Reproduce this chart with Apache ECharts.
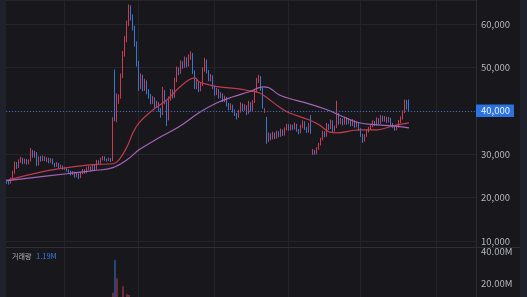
<!DOCTYPE html>
<html><head><meta charset="utf-8">
<script src="https://cdn.jsdelivr.net/npm/echarts@6/dist/echarts.min.js"></script>
<style>html,body{margin:0;padding:0;background:#18181c;}#c{width:527px;height:297px;}</style>
</head><body><div id="c"></div>
<script>
// ---- data (KRW) ----
const opens = [
23900,23600,23400,24300,25800,27800,27000,28400,28900,28000,
28700,27900,28500,30600,29500,30300,27600,29200,28600,29300,
28700,29000,28200,28800,27800,27300,27900,27000,27300,26600,
26900,26200,26000,25400,25900,24900,25500,24700,25600,26300,
25800,26700,27000,26400,27300,26500,28400,28000,28900,29300,
28800,28600,28900,28500,46000,38200,42000,43200,48000,53000,
56500,60000,63600,61500,59000,55500,51000,45500,48000,45000,
46800,44200,43500,42000,42900,41000,41800,40200,39300,44500,
42000,38000,42800,44500,43300,47000,49600,48800,51000,50200,
52000,50500,52500,53000,49000,45500,46500,44800,46000,49500,
51500,49000,47200,48000,45500,44000,44800,43200,43800,42400,
43000,41500,40500,41200,40000,39200,38600,39800,41500,40300,
41000,39500,41800,40200,42000,44500,47000,47800,45000,39800,
38500,33000,34500,33600,34800,33800,35000,34200,35500,34500,
35800,36600,35700,36500,35900,36800,35600,35000,36400,37400,
36000,35200,37000,30000,30800,30200,31300,32200,33400,35000,
34200,36800,36000,37600,35500,36200,38800,37200,38000,37000,
38200,37200,37800,36800,37600,36500,37200,35800,34500,33100,
34200,35300,35900,36500,37400,36800,38000,37200,38600,37800,
38400,37600,38200,37000,36400,35800,36300,37500,38300,39700,
42200,41800];
const closes = [
23600,23400,24300,25800,27800,27000,28400,28900,28000,28700,
27900,28500,30600,29500,30300,27600,29200,28600,29300,28700,
29000,28200,28800,27800,27300,27900,27000,27300,26600,26900,
26200,26000,25400,25900,24900,25500,24700,25600,26300,25800,
26700,27000,26400,27300,26500,28400,28000,28900,29300,28800,
28600,28900,28500,38000,39000,43500,43200,48000,53000,56500,
60000,63600,61500,59000,55500,51000,45500,48000,45000,46800,
44200,43500,42000,42900,41000,41800,40200,39300,44500,42000,
38000,42800,44500,43300,47000,49600,48800,51000,50200,52000,
50500,52500,53000,49000,45500,46500,44800,46000,49500,51500,
49000,47200,48000,45500,44000,44800,43200,43800,42400,43000,
41500,40500,41200,40000,39200,38600,39800,41500,40300,41000,
39500,41800,40200,42000,44500,47000,47800,45000,41000,40100,
33000,34500,33600,34800,33800,35000,34200,35500,34500,35800,
36600,35700,36500,35900,36800,35600,35000,36400,37400,36000,
35200,36800,35000,30800,30200,31300,32200,33400,35000,34200,
36800,36000,37600,35500,36200,38800,37200,38000,37000,38200,
37200,37800,36800,37600,36500,37200,35800,34500,33100,34200,
35300,35900,36500,37400,36800,38000,37200,38600,37800,38400,
37600,38200,37000,36400,35800,36300,37500,38300,39700,42200,
40600,40000];
const lows = [
23200,23000,23200,24000,25500,26600,26800,28000,27700,27800,
27600,27700,28300,29200,29200,27300,27400,28300,28400,28400,
28200,27900,28000,27600,27000,27100,26800,26800,26400,26400,
26000,25700,25100,25200,24600,24700,24300,24500,25400,25500,
25600,26400,26100,26200,26300,26400,27700,27800,28600,28500,
28300,28400,28200,28400,37600,37400,41600,42800,47500,52500,
55800,59500,60800,58500,54800,50200,44600,45000,44500,44600,
43800,42800,41500,41600,40600,40700,39800,38400,39000,41500,
36500,37800,42300,42800,43000,46600,48200,48500,49700,49900,
50000,50200,51800,48500,45000,45000,44300,44500,45700,49000,
48600,46800,46800,45000,43500,43600,42800,42900,42000,42000,
41000,40100,40200,39600,38800,38000,38400,39600,39900,40000,
39000,39300,39800,40000,41800,44200,46400,44600,40500,39500,
32400,32800,33200,33400,33500,33600,33900,34000,34200,34300,
35500,35400,35500,35600,35700,35200,34600,34800,36000,35600,
34900,35000,34700,29800,29900,30000,31000,32000,33200,33900,
34000,35600,35800,35100,35200,36000,36800,36900,36600,36800,
36800,36900,36400,36500,36100,36200,35400,34000,32600,32900,
34000,35000,35600,36200,36500,36600,36900,37000,37500,37500,
37200,37300,36700,36000,35400,35500,36100,37200,38000,39500,
40300,39700];
const highs = [
24200,24000,24600,26200,28300,28200,28800,29400,29200,29000,
28900,28800,31400,31000,30800,30500,29500,29600,29700,29500,
29300,29200,29100,29000,28000,28200,28000,27600,27400,27100,
27000,26500,26200,26100,26000,25800,25600,25900,26600,26500,
27000,27300,27200,27600,27500,28700,28600,29200,29600,29500,
29000,29200,29100,38500,49500,44000,43800,48600,53800,57200,
60800,64500,64300,62200,59600,56000,51500,48600,48300,47400,
47000,45000,43900,43400,43100,42300,42000,40600,45500,44800,
42300,43300,45000,44900,47600,50200,50000,51600,51400,52500,
52300,53000,53700,53300,49300,47200,46800,46500,50000,52200,
51800,49400,48500,48200,45800,45300,45000,44300,44000,43500,
43200,41800,41700,41400,40300,39500,40200,42000,41700,41500,
41300,42300,42000,42500,45000,47600,48300,48000,45300,40600,
38600,35000,34800,35200,35000,35400,35300,35900,35700,36200,
37000,36900,36900,36800,37300,37000,35800,36800,37800,37600,
36300,37200,39000,31200,31000,31600,32600,33800,35400,35300,
37200,37000,38000,37800,36600,42300,39500,38400,38200,38600,
38500,38300,38000,38100,37800,37600,37400,36000,34700,34600,
35700,36300,36900,37800,37700,38500,38300,39000,38900,38800,
38600,38600,38400,37200,36600,36700,37900,38700,40100,42600,
42500,42600];
// volume in millions of shares
const volumesM = [
1.8,1.5,2.0,2.6,3.2,2.4,2.2,1.9,1.7,1.6,
1.5,1.4,2.8,2.1,1.7,2.3,1.9,1.5,1.4,1.3,
1.2,1.3,1.1,1.4,1.2,1.0,1.1,0.9,1.0,0.9,
1.0,0.9,1.1,0.8,1.2,0.9,1.0,1.1,1.2,0.9,
1.1,1.0,0.9,1.2,1.0,1.9,1.3,1.5,1.6,1.1,
0.9,1.0,0.9,14.0,34.4,23.0,8.5,9.6,18.0,10.5,
13.0,12.5,9.8,7.5,8.2,9.0,10.2,6.4,5.8,5.1,
5.4,4.6,4.2,3.9,4.4,3.6,3.8,4.5,7.2,5.0,
6.1,5.5,4.8,3.9,5.9,6.6,4.7,5.2,4.1,4.8,
4.0,4.5,5.3,5.6,4.9,3.6,3.2,3.0,4.6,5.1,
4.0,3.4,2.9,3.1,2.8,2.4,2.6,2.2,2.5,2.1,
2.4,2.6,2.0,2.2,2.5,2.7,2.1,2.4,2.0,1.9,
2.0,2.2,1.8,2.4,3.5,4.8,4.2,3.9,4.4,2.6,
6.8,3.2,2.4,2.0,1.9,2.1,1.7,1.8,1.6,1.9,
2.0,1.6,1.5,1.4,1.7,1.5,1.6,1.8,2.1,1.7,
1.4,1.8,3.9,4.2,2.6,2.3,2.5,2.8,3.4,2.2,
2.6,2.0,2.3,1.9,1.7,5.6,3.1,2.0,1.7,1.6,
1.5,1.4,1.3,1.4,1.2,1.3,1.6,1.9,2.4,1.7,
1.6,1.5,1.4,1.6,1.3,1.7,1.4,1.6,1.3,1.2,
1.3,1.2,1.4,1.5,1.6,1.3,1.5,1.6,1.9,2.8,
1.9,1.19];
// moving averages read at sample candles (index -> value)
const maShortIdx = [0,18,30,43,53,56,60,63,66,73,80,86,91,94,96,101,106,116,121,126,130,136,141,151,156,161,165,176,185,193,201];
const maShortVal = [24000,26000,26900,27600,27800,28700,31700,34930,37230,40230,42530,45300,47140,47600,46680,45990,45530,45070,44610,44150,43000,40920,39540,37930,36770,35160,34930,35620,35620,36540,37240];
const maLongIdx = [0,13,30,43,53,60,66,76,86,96,105,113,121,128,131,136,140,151,160,168,176,185,193,201];
const maLongVal = [23900,24600,25500,26200,26900,28700,31000,33780,36310,39540,41840,43230,44380,45530,45300,43690,43000,41600,40230,38620,37240,36770,36540,36080];
const volumeTitle = '거래량';
const totalSlots = 235;          // candles + empty right margin
const gridLineIdx = [29, 66, 104, 141, 177, 215];

// categories: trading days
const categories = [];
{ const d = new Date(Date.UTC(2023, 0, 2));
  while (categories.length < totalSlots) {
    const wd = d.getUTCDay();
    if (wd !== 0 && wd !== 6) categories.push(d.toISOString().slice(0, 10));
    d.setUTCDate(d.getUTCDate() + 1);
  } }

const UP = '#c83d52', DOWN = '#3877d0';
const UPV = 'rgba(200,61,82,0.85)', DOWNV = 'rgba(56,119,208,0.85)';
const FONT = "'Noto Sans CJK KR','Noto Sans',sans-serif";
const LABEL = '#b4b7bf';
const GRIDC = '#24242a';

const ohlc = opens.map((o, i) => [o, closes[i], lows[i], highs[i]]);
const vol = volumesM.map((v, i) => ({ value: v, itemStyle: { color: closes[i] >= opens[i] ? UPV : DOWNV } }));
const lastClose = closes[closes.length - 1];
const lastVol = volumesM[volumesM.length - 1];

const xBase = (gi) => ({
  type: 'category', gridIndex: gi, data: categories, boundaryGap: true,
  axisLine: { show: false }, axisTick: { show: false }, axisLabel: { show: false },
  splitLine: { show: true, interval: (idx) => gridLineIdx.includes(idx), lineStyle: { color: GRIDC, width: 1 } }
});

const chart = echarts.init(document.getElementById('c'), null, { renderer: 'canvas' });
chart.setOption({
  backgroundColor: '#18181c',
  animation: false,
  grid: [
    { left: 6, right: 51, top: 0, height: 247, outerBoundsMode: 'none' },
    { left: 6, right: 51, top: 248, height: 67, outerBoundsMode: 'none' }
  ],
  xAxis: [xBase(0), xBase(1)],
  yAxis: [
    { type: 'value', gridIndex: 0, position: 'right', min: 8620, max: 65530, splitNumber: 5,
      axisLine: { show: true, lineStyle: { color: '#2c2c33' } }, axisTick: { show: false },
      axisLabel: { color: LABEL, fontSize: 9.5, fontFamily: FONT, margin: 5, showMinLabel: false, showMaxLabel: false,
        formatter: v => (v % 10000 === 0 ? v.toLocaleString('en-US') : '') },
      splitLine: { show: true, lineStyle: { color: GRIDC } } },
    { type: 'value', gridIndex: 1, position: 'right', min: 0, max: 42, interval: 20,
      axisLine: { show: true, lineStyle: { color: '#2c2c33' } }, axisTick: { show: false },
      axisLabel: { color: LABEL, fontSize: 9.5, fontFamily: FONT, margin: 5, showMaxLabel: false,
        formatter: v => (v > 0 ? v.toFixed(2) + 'M' : '') },
      splitLine: { show: false } }
  ],
  series: [
    { type: 'candlestick', xAxisIndex: 0, yAxisIndex: 0, data: ohlc, barWidth: '60%',
      itemStyle: { color: UP, color0: DOWN, borderColor: UP, borderColor0: DOWN, borderWidth: 1 },
      markLine: { silent: true, symbol: ['none', 'none'], animation: false,
        data: [{ yAxis: lastClose }],
        lineStyle: { color: '#2f6ad0', type: [1, 2], width: 1, opacity: 0.9 },
        label: { show: true, position: 'end', distance: 0, formatter: () => lastClose.toLocaleString('en-US'),
          backgroundColor: '#2f7cf6', color: '#ffffff', fontSize: 9.5, fontFamily: FONT, padding: [2, 4, 1, 5] } } },
    { type: 'line', xAxisIndex: 0, yAxisIndex: 0, data: maShortIdx.map((x, k) => [x, maShortVal[k]]),
      smooth: 0.4, showSymbol: false, lineStyle: { color: '#c23a4d', width: 1.2 }, z: 3 },
    { type: 'line', xAxisIndex: 0, yAxisIndex: 0, data: maLongIdx.map((x, k) => [x, maLongVal[k]]),
      smooth: 0.4, showSymbol: false, lineStyle: { color: '#a563b8', width: 1.2 }, z: 3 },
    { type: 'bar', xAxisIndex: 1, yAxisIndex: 1, data: vol, barWidth: '60%' }
  ],
  graphic: [
    { type: 'rect', left: 0, top: 0, shape: { width: 6, height: 297 }, style: { fill: '#1f222c' }, z: 10 },
    { type: 'rect', left: 520, top: 0, shape: { width: 7, height: 297 }, style: { fill: '#1f222c' }, z: 10 },
    { type: 'line', shape: { x1: 6, y1: 247.5, x2: 520, y2: 247.5 }, style: { stroke: '#2e2e35', lineWidth: 1 }, z: 10 },
    { type: 'text', left: 12, top: 252.5, style: { text: volumeTitle, fill: LABEL, font: "7px 'Noto Sans CJK KR'" }, z: 10 },
    { type: 'text', left: 36, top: 252, style: { text: lastVol.toFixed(2) + 'M', fill: '#3a7fe6', font: "7.5px 'Noto Sans CJK KR'" }, z: 10 }
  ]
});
</script></body></html>
